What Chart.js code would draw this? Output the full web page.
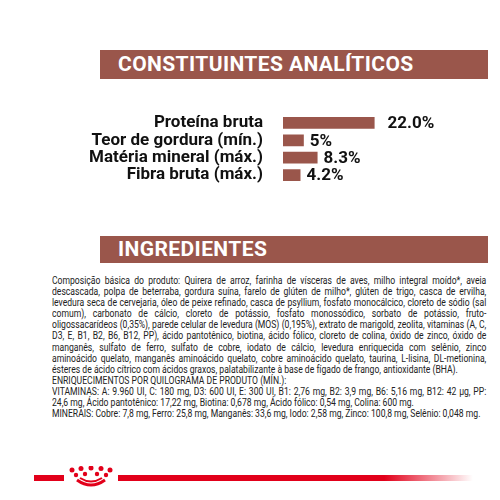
<!DOCTYPE html>
<html><head><meta charset="utf-8">
<script src="https://cdn.jsdelivr.net/npm/chart.js@4"></script>
<style>
body{margin:0;width:500px;height:500px;background:#fff;position:relative;overflow:hidden;font-family:Roboto,sans-serif}
.hdr{position:absolute;left:100px;width:388px;height:29px;background:#9a564b;color:#fff;font:bold 21px Roboto,sans-serif;line-height:29px;padding-left:18px;box-sizing:border-box;letter-spacing:0.4px}
#c{position:absolute;left:0;top:92px}
.txt{position:absolute;left:52px;top:275px;width:505px;transform:scaleX(0.86);transform-origin:0 0;font:10px Roboto,sans-serif;line-height:11.1px;color:#222;text-align:justify}
.line{position:absolute;top:475px;height:6px}
</style></head><body>
<div class="hdr" style="top:50px">CONSTITUINTES ANALÍTICOS</div>
<canvas id="c" width="500" height="114"></canvas>
<div class="hdr" style="top:236px;height:27px;line-height:27px">INGREDIENTES</div>
<div class="txt">Composição básica do produto: Quirera de arroz, farinha de vísceras de aves, milho integral moído*, aveia descascada, polpa de beterraba, gordura suína, farelo de glúten de milho*, glúten de trigo, casca de ervilha, levedura seca de cervejaria, óleo de peixe refinado, casca de psyllium, fosfato monocálcico, cloreto de sódio (sal comum), carbonato de cálcio, cloreto de potássio, fosfato monossódico, sorbato de potássio, fruto-oligossacarídeos (0,35%), parede celular de levedura (MOS) (0,195%), extrato de marigold, zeolita, vitaminas (A, C, D3, E, B1, B2, B6, B12, PP), ácido pantotênico, biotina, ácido fólico, cloreto de colina, óxido de zinco, óxido de manganês, sulfato de ferro, sulfato de cobre, iodato de cálcio, levedura enriquecida com selênio, zinco aminoácido quelato, manganês aminoácido quelato, cobre aminoácido quelato, taurina, L-lisina, DL-metionina, ésteres de ácido cítrico com ácidos graxos, palatabilizante à base de fígado de frango, antioxidante (BHA).<br>ENRIQUECIMENTOS POR QUILOGRAMA DE PRODUTO (MÍN.):<br>VITAMINAS: A: 9.960 UI, C: 180 mg, D3: 600 UI, E: 300 UI, B1: 2,76 mg, B2: 3,9 mg, B6: 5,16 mg, B12: 42 µg, PP: 24,6 mg, Ácido pantotênico: 17,22 mg, Biotina: 0,678 mg, Ácido fólico: 0,54 mg, Colina: 600 mg.<br>MINERAIS: Cobre: 7,8 mg, Ferro: 25,8 mg, Manganês: 33,6 mg, Iodo: 2,58 mg, Zinco: 100,8 mg, Selênio: 0,048 mg.</div>
<div class="line" style="left:34px;width:30px;background:#e2001a"></div>
<svg style="position:absolute;left:66px;top:466px" width="50" height="22">
<g fill="#e2001a"><circle cx="6" cy="4" r="2.5"/><circle cx="15" cy="2.5" r="2.5"/><circle cx="25" cy="2" r="2.5"/><circle cx="35" cy="2.5" r="2.5"/><circle cx="44" cy="4" r="2.5"/>
<circle cx="10" cy="9" r="2.2"/><circle cx="19" cy="8" r="2.2"/><circle cx="31" cy="8" r="2.2"/><circle cx="40" cy="9" r="2.2"/></g>
<path d="M11 14 Q25 24 39 14" stroke="#e2001a" stroke-width="3" fill="none"/><path d="M14 12 Q25 19 36 12" stroke="#e2001a" stroke-width="2" fill="none"/></svg>
<div class="line" style="left:118px;width:355px;background:linear-gradient(to right,#e2001a 75%,rgba(226,0,26,0))"></div>
<script>
const categories=["Proteína bruta","Teor de gordura (mín.)","Matéria mineral (máx.)","Fibra bruta (máx.)"];
const values=[22.0,5,8.3,4.2];
const valueLabels=["22.0%","5%","8.3%","4.2%"];
const lbl={id:'lbl',afterDatasetsDraw(ch){const c=ch.ctx;const m=ch.getDatasetMeta(0);c.save();c.fillStyle='#111';c.font='bold 17px Roboto';c.textBaseline='middle';
m.data.forEach((b,i)=>{c.fillText(valueLabels[i],b.x+(i===0?13:6),b.y+1)});c.restore();}};
new Chart(document.getElementById('c'),{type:'bar',data:{labels:categories,datasets:[{data:values,backgroundColor:'#9a564b',barPercentage:0.68,categoryPercentage:1}]},
options:{indexAxis:'y',responsive:false,animation:false,layout:{padding:{right:13}},
plugins:{legend:{display:false},tooltip:{enabled:false}},
scales:{x:{display:false,min:0,max:49},y:{grid:{display:false},border:{display:false},afterFit(s){s.width=283},ticks:{color:'#111',padding:12,font:{family:'Roboto',weight:'bold',size:17}}}}},plugins:[lbl]});
</script></body></html>
